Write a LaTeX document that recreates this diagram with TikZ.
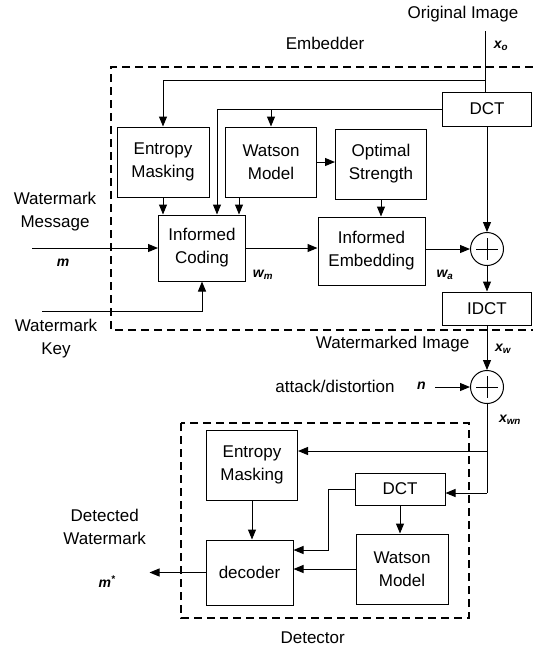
\documentclass[tikz,border=0pt]{standalone}
\usepackage{fontspec}
\setmainfont{Liberation Sans}
\usetikzlibrary{arrows.meta}
\begin{document}
\begin{tikzpicture}[x=1pt,y=-1pt,
  every node/.style={font=\fontsize{17}{23}\selectfont},
  blk/.style={draw, line width=1pt, align=center, inner sep=0pt},
  sum/.style={circle, draw, line width=1pt, minimum size=33pt, inner sep=0pt},
  arr/.style={line width=1pt, -{Triangle[length=10pt,width=8pt]}},
  ln/.style={line width=1pt},
  dsh/.style={line width=1.3pt, dash pattern=on 8pt off 5pt},
  sym/.style={font=\fontsize{14}{16}\selectfont\bfseries\itshape},
  lbl/.style={align=center}]
\useasboundingbox (0,0) rectangle (533,649);
% dashed frames
\draw[dsh] (533,67) -- (111,67) -- (111,330) -- (533,330);
\draw[dsh] (181,423) rectangle (469,618);
% embedder blocks
\node[blk, minimum width=89pt, minimum height=34pt] (dct1) at (487,109) {DCT};
\node[blk, minimum width=92pt, minimum height=70pt] (em1) at (163,162) {Entropy\\Masking};
\node[blk, minimum width=91pt, minimum height=70pt] (wm1) at (271,162) {Watson\\Model};
\node[blk, minimum width=91pt, minimum height=70pt] (os) at (381,164) {Optimal\\Strength};
\node[blk, minimum width=87pt, minimum height=66pt] (ic) at (202,248) {Informed\\Coding};
\node[blk, minimum width=107pt, minimum height=68pt] (ie) at (371.5,251) {Informed\\Embedding};
\node[sum] (p1) at (487,249) {};
\node[blk, minimum width=89pt, minimum height=33pt] (idct) at (487,308.5) {IDCT};
\node[sum] (p2) at (487,387) {};
% detector blocks
\node[blk, minimum width=91pt, minimum height=70pt] (em2) at (252,465) {Entropy\\Masking};
\node[blk, minimum width=90pt, minimum height=32pt] (dct2) at (400,489) {DCT};
\node[blk, minimum width=92pt, minimum height=70pt] (wm2) at (402,569) {Watson\\Model};
\node[blk, minimum width=87pt, minimum height=65pt] (dec) at (249.5,572.5) {decoder};
% plus signs
\foreach \p in {p1,p2} {
  \draw[ln] ([yshift=11pt]\p.center) -- ([yshift=-11pt]\p.center);
  \draw[ln] ([xshift=-11pt]\p.center) -- ([xshift=11pt]\p.center);
}
% texts
\node (tOrig) at (463,14) {Original Image};
\node (tEmb) at (325,43.5) {Embedder};
\node[sym] (sxo) at (501,46) {x\textsubscript{o}};
\node[sym] (swm) at (263,275) {w\textsubscript{m}};
\node[sym] (swa) at (445,275) {w\textsubscript{a}};
\node[lbl] (tMsg) at (55,211.5) {Watermark\\Message};
\node[sym] (sm) at (63,263) {m};
\node[lbl] (tKey) at (56,338.5) {Watermark\\Key};
\node (tWI) at (392.6,344) {Watermarked Image};
\node[sym] (sxw) at (503,349) {x\textsubscript{w}};
\node (tAtt) at (335,386) {attack/distortion};
\node[sym] (sn) at (421.5,386) {n};
\node[sym] (sxwn) at (510,420) {x\textsubscript{wn}};
\node[lbl] (tDet) at (104.7,526.5) {Detected\\Watermark};
\node[sym] (sms) at (107,582) {m\textsuperscript{*}};
\node (tDetr) at (312.7,638) {Detector};
% coordinates
\coordinate (oin) at (485,31);
\coordinate (b1) at (485,80);
\coordinate (k1) at (217,0);
\coordinate (k4) at (239,0);
\coordinate (min) at (32,248);
\coordinate (kin) at (42,311);
\coordinate (nin) at (435,387);
\coordinate (j1) at (487,451);
\coordinate (j2) at (487,493);
\coordinate (k7) at (328,550);
\coordinate (mout) at (149.5,570);
% embedder connectors
\draw[ln] (oin) -- (oin |- dct1.north);
\draw[arr] (b1) -| (em1.north);
\draw[arr] (dct1.west) -| (k1 |- ic.north);
\draw[arr] (wm1.north |- dct1.west) -- (wm1.north);
\draw[arr] (em1.south) -- (em1.south |- ic.north);
\draw[arr] (k4 |- wm1.south) -- (k4 |- ic.north);
\draw[arr] (wm1.east) -- (wm1.east -| os.west);
\draw[arr] (os.south) -- (os.south |- ie.north);
\draw[arr] (ic.east) -- (ic.east -| ie.west);
\draw[arr] (ie.east |- p1.west) -- (p1.west);
\draw[arr] (dct1.south) -- (p1.north);
\draw[arr] (p1.south) -- (idct.north);
\draw[arr] (min) -- (ic.west);
\draw[arr] (kin) -| (ic.south);
% channel
\draw[arr] (idct.south) -- (p2.north);
\draw[arr] (nin) -- (p2.west);
% detector connectors
\draw[ln] (p2.south) -- (j2);
\draw[arr] (j1) -- (j1 -| em2.east);
\draw[arr] (j2) -- (j2 -| dct2.east);
\draw[arr] (em2.south) -- (em2.south |- dec.north);
\draw[arr] (dct2.south) -- (dct2.south |- wm2.north);
\draw[arr] (dct2.west) -| (k7) -- (k7 -| dec.east);
\draw[arr] (wm2.west) -- (wm2.west -| dec.east);
\draw[arr] (dec.west) -- (dec.west -| mout);
\end{tikzpicture}
\end{document}
